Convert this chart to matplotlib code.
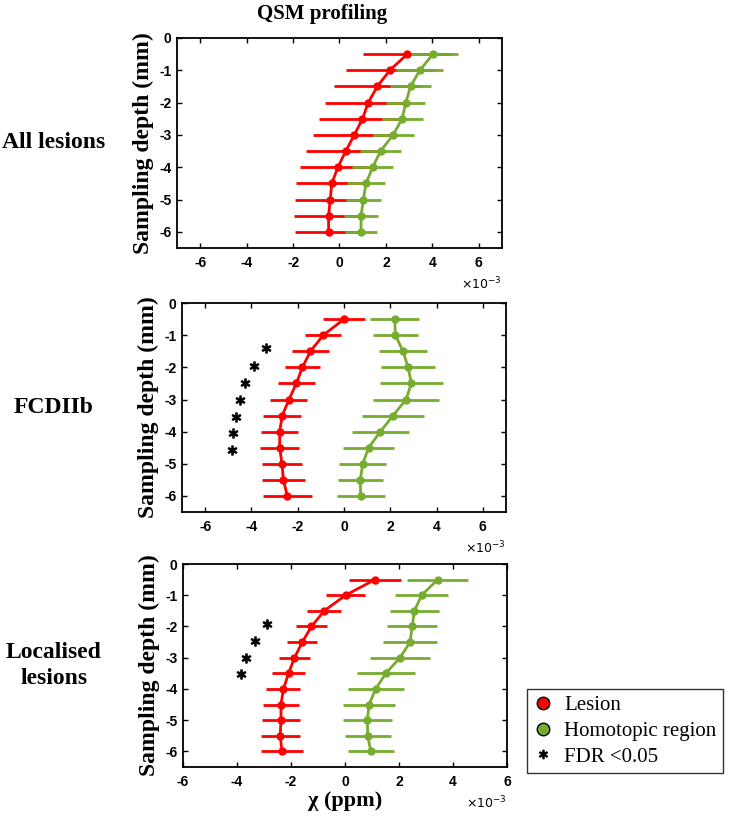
import matplotlib
matplotlib.use("Agg")
import matplotlib.pyplot as plt
from matplotlib.lines import Line2D

plt.rcParams["axes.unicode_minus"] = False
plt.rcParams["mathtext.fontset"] = "dejavusans"

# Sampling depth (mm)
depth = [-0.5, -1, -1.5, -2, -2.5, -3, -3.5, -4, -4.5, -5, -5.5, -6]

# chi values in units of 1e-3 ppm (mean and error half-width)
lesion_all = [2.92, 2.17, 1.63, 1.24, 0.99, 0.64, 0.27, -0.07, -0.33, -0.40, -0.47, -0.47]
lesion_all_err = [1.89, 1.89, 1.88, 1.86, 1.86, 1.80, 1.70, 1.64, 1.55, 1.52, 1.47, 1.45]
homo_all = [4.03, 3.46, 3.06, 2.86, 2.70, 2.31, 1.77, 1.43, 1.14, 1.03, 0.93, 0.93]
homo_all_err = [1.07, 1.01, 0.88, 0.84, 0.88, 0.88, 0.89, 0.87, 0.81, 0.76, 0.72, 0.70]

lesion_fcd = [0.00, -0.90, -1.45, -1.80, -2.06, -2.38, -2.67, -2.78, -2.78, -2.68, -2.62, -2.45]
lesion_fcd_err = [0.90, 0.77, 0.78, 0.77, 0.80, 0.80, 0.82, 0.81, 0.83, 0.87, 0.94, 1.05]
homo_fcd = [2.19, 2.22, 2.55, 2.77, 2.91, 2.68, 2.12, 1.57, 1.06, 0.81, 0.70, 0.72]
homo_fcd_err = [1.05, 0.98, 1.02, 1.18, 1.36, 1.41, 1.33, 1.22, 1.09, 1.01, 0.98, 1.03]

lesion_loc = [1.11, 0.02, -0.77, -1.24, -1.58, -1.87, -2.09, -2.28, -2.37, -2.37, -2.40, -2.33]
lesion_loc_err = [0.96, 0.74, 0.62, 0.56, 0.55, 0.57, 0.60, 0.63, 0.66, 0.69, 0.72, 0.78]
homo_loc = [3.43, 2.84, 2.57, 2.49, 2.41, 2.04, 1.51, 1.14, 0.89, 0.83, 0.84, 0.96]
homo_loc_err = [1.14, 0.98, 0.90, 0.93, 1.00, 1.11, 1.08, 1.03, 0.96, 0.91, 0.85, 0.85]

# FDR < 0.05 markers (glyph centres)
star_fcd_x = [-3.36, -3.87, -4.28, -4.48, -4.65, -4.80, -4.86]
star_fcd_y = [-1.41, -1.96, -2.49, -3.00, -3.54, -4.04, -4.56]
star_loc_x = [-2.90, -3.33, -3.67, -3.86]
star_loc_y = [-1.91, -2.48, -3.00, -3.52]

row_labels = ["All lesions", "FCDIIb", "Localised\nlesions"]
xticks = [-6, -4, -2, 0, 2, 4, 6]
yticks = [0, -1, -2, -3, -4, -5, -6]

red = "#ff0000"
green = "#77ac30"
serif = "Liberation Serif"
sans = "Liberation Sans"

fig = plt.figure(figsize=(7.29, 8.16), dpi=100)

positions = [
    [0.2428, 0.6961, 0.4458, 0.2574],
    [0.2497, 0.3725, 0.4444, 0.2561],
    [0.2510, 0.0600, 0.4444, 0.2488],
]
xlims = [(-7, 7), (-7, 7), (-6, 6)]
panels = [
    (lesion_all, lesion_all_err, homo_all, homo_all_err, [], []),
    (lesion_fcd, lesion_fcd_err, homo_fcd, homo_fcd_err, star_fcd_x, star_fcd_y),
    (lesion_loc, lesion_loc_err, homo_loc, homo_loc_err, star_loc_x, star_loc_y),
]

for i, (pos, xl, data, label) in enumerate(zip(positions, xlims, panels, row_labels)):
    les, les_err, hom, hom_err, sx, sy = data
    ax = fig.add_axes(pos)
    ax.errorbar(les, depth, xerr=les_err, color=red, lw=2.0, elinewidth=2.0,
                marker="o", ms=5, capsize=0)
    ax.errorbar(hom, depth, xerr=hom_err, color=green, lw=2.0, elinewidth=2.0,
                marker="o", ms=5, capsize=0)
    if sx:
        ax.plot(sx, sy, ls="none", marker=r"$\ast$", ms=6.5, color="black")

    ax.set_xlim(*xl)
    ax.set_ylim(-6.5, 0)
    ax.set_xticks(xticks)
    ax.set_yticks(yticks)
    ax.tick_params(direction="in", top=True, right=True, length=3.5, width=1.0,
                   labelsize=10, pad=4)
    ax.tick_params(axis="x", pad=6)
    for lab in ax.get_xticklabels() + ax.get_yticklabels():
        lab.set_fontfamily(sans)
        lab.set_fontweight("bold")
    for sp in ax.spines.values():
        sp.set_linewidth(1.3)

    ax.set_ylabel("Sampling depth (mm)", fontsize=17, family=serif,
                  fontweight="bold", labelpad=4)
    ax.annotate(r"$\times10^{-3}$", xy=(1, 0), xycoords="axes fraction",
                xytext=(0, -26), textcoords="offset points",
                ha="right", va="center", fontsize=9)

    # row label, centred on the panel
    fig.text(0.074, pos[1] + pos[3] / 2, label, fontsize=17, family=serif,
             fontweight="bold", ha="center", va="center", linespacing=1.3)

    if i == 2:
        ax.set_xlabel(r"χ (ppm)", fontsize=16, family=serif, fontweight="bold",
                      labelpad=1)

fig.text(0.442, 0.983, "QSM profiling", fontsize=15, family=serif,
         fontweight="bold", ha="center", va="center")

handles = [
    Line2D([], [], ls="none", marker="o", ms=9, mfc=red, mec="black", mew=1),
    Line2D([], [], ls="none", marker="o", ms=9, mfc=green, mec="black", mew=1),
    Line2D([], [], ls="none", marker=r"$\ast$", ms=6, color="black"),
]
leg = fig.legend(handles, ["Lesion", "Homotopic region", "FDR <0.05"],
                 loc="center", bbox_to_anchor=(0.857, 0.104),
                 prop={"family": serif, "size": 15}, frameon=True,
                 fancybox=False, edgecolor="black", handlelength=1.0,
                 handletextpad=0.5, labelspacing=0.3, borderpad=0.3)
leg.get_frame().set_linewidth(1.0)

fig.savefig("out.png", dpi=100)
